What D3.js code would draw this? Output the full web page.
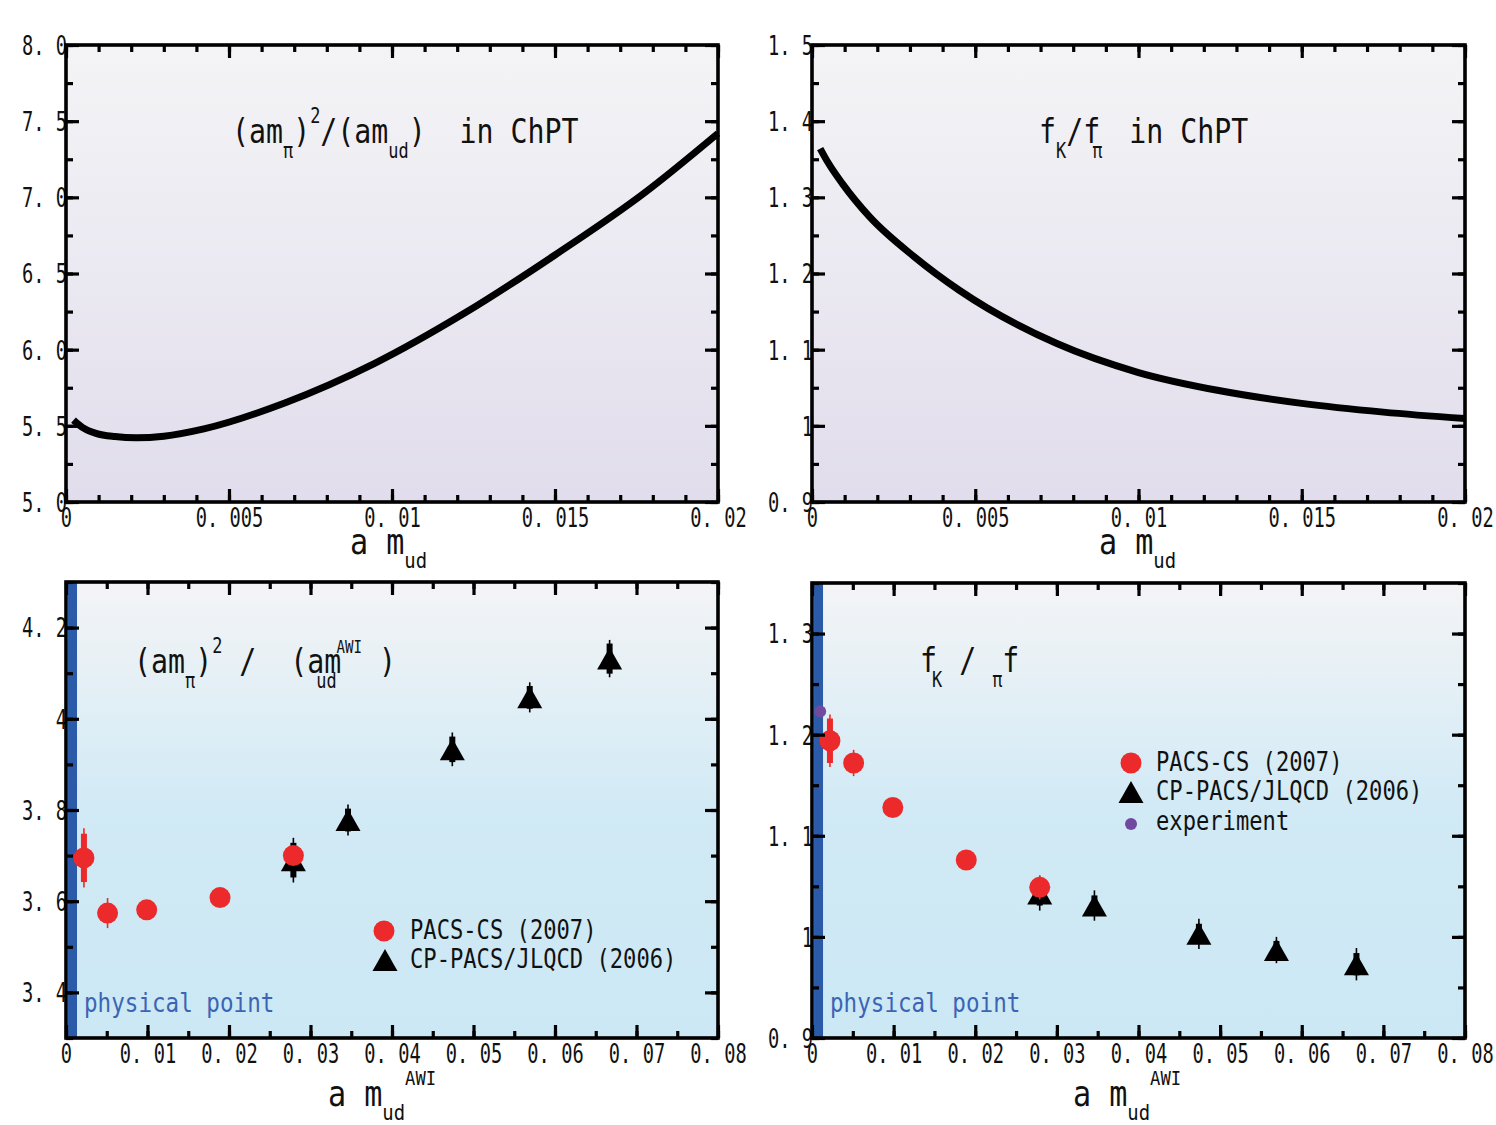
<!DOCTYPE html>
<html><head><meta charset="utf-8">
<script src="https://cdn.jsdelivr.net/npm/d3@7"></script>
<style>
body{margin:0;background:#fff}
text{font-family:"DejaVu Sans Mono","Liberation Mono",monospace;white-space:pre}
</style>
</head><body>
<svg id="c" width="1496" height="1125"></svg>
<script>
// ---------------- DATA ----------------
// Top-left: ChPT curve (am_pi)^2/(am_ud) vs a m_ud
const chptMudX = [0.00023, 0.0005, 0.00092, 0.0015, 0.00216, 0.003, 0.00423, 0.00671, 0.00947, 0.01223, 0.01499, 0.01775, 0.02];
const chptMpiRatio = [5.538, 5.49, 5.451, 5.43, 5.422, 5.432, 5.48, 5.65, 5.91, 6.24, 6.62, 7.03, 7.42];
// Top-right: ChPT curve fK/fpi vs a m_ud
const chptFkX = [0.00025, 0.0005, 0.00093, 0.00176, 0.00313, 0.00451, 0.0075, 0.01, 0.0125, 0.015, 0.0175, 0.02];
const chptFkRatio = [1.364, 1.345, 1.318, 1.2746, 1.222, 1.178, 1.108, 1.07, 1.046, 1.0295, 1.018, 1.0095];

// Bottom panels: lattice data vs a m_ud^AWI
const pacsX = [0.0022, 0.0051, 0.0099, 0.0189, 0.0279];
const pacsMpi = [3.695, 3.574, 3.581, 3.608, 3.700];
const pacsMpiErrStat = [0.053, 0.016, 0.008, 0.006, 0.01];
const pacsMpiErrTot = [0.065, 0.033, 0.01, 0.008, 0.012];
const pacsFk = [1.194, 1.172, 1.128, 1.076, 1.049];
const pacsFkErrStat = [0.022, 0.008, 0.006, 0.005, 0.006];
const pacsFkErrTot = [0.026, 0.013, 0.008, 0.006, 0.012];

const cpX = [0.0279, 0.0346, 0.0474, 0.0569, 0.0667];
const cpMpi = [3.69, 3.778, 3.933, 4.047, 4.132];
const cpMpiErrStat = [0.038, 0.025, 0.028, 0.025, 0.033];
const cpMpiErrTot = [0.049, 0.034, 0.037, 0.033, 0.041];
const cpFk = [1.043, 1.031, 1.003, 0.987, 0.973];
const cpFkErrStat = [0.012, 0.01, 0.01, 0.009, 0.011];
const cpFkErrTot = [0.017, 0.015, 0.015, 0.013, 0.016];

const expX = [0.001];
const expFk = [1.223];
const physX = 0.0008;

// Tick values / labels
const xTopTicks = [0, 0.005, 0.01, 0.015, 0.02];
const xTopLabels = ["0", "0. 005", "0. 01", "0. 015", "0. 02"];
const xBotTicks = [0, 0.01, 0.02, 0.03, 0.04, 0.05, 0.06, 0.07, 0.08];
const xBotLabels = ["0", "0. 01", "0. 02", "0. 03", "0. 04", "0. 05", "0. 06", "0. 07", "0. 08"];
const yTLTicks = [5, 5.5, 6, 6.5, 7, 7.5, 8];
const yTLLabels = ["5. 0", "5. 5", "6. 0", "6. 5", "7. 0", "7. 5", "8. 0"];
const yTRTicks = [0.9, 1, 1.1, 1.2, 1.3, 1.4, 1.5];
const yTRLabels = ["0. 9", "1", "1. 1", "1. 2", "1. 3", "1. 4", "1. 5"];
const yBLTicks = [3.4, 3.6, 3.8, 4, 4.2];
const yBLLabels = ["3. 4", "3. 6", "3. 8", "4", "4. 2"];
const yBRTicks = [0.9, 1, 1.1, 1.2, 1.3];
const yBRLabels = ["0. 9", "1", "1. 1", "1. 2", "1. 3"];

// ---------------- DRAW ----------------
const svg = d3.select('#c');
const defs = svg.append('defs');
function grad(id, stops) {
  const g = defs.append('linearGradient').attr('id', id).attr('x1', 0).attr('y1', 0).attr('x2', 0).attr('y2', 1);
  stops.forEach(s => g.append('stop').attr('offset', s[0]).attr('stop-color', s[1]));
}
grad('lav', [[0, '#f4f4f6'], [1, '#e1ddec']]);
grad('sky', [[0, '#f4f4f6'], [0.5, '#d1eaf5'], [1, '#cbe8f4']]);

const RED = '#ec2a2b', PURPLE = '#6f4a9e', BLUE = '#2b5ba8';

function rng(a, b, s) { const n = Math.round((b - a) / s); return d3.range(n + 1).map(i => +(a + i * s).toFixed(6)); }

function makePanel(c) {
  const x = d3.scaleLinear().domain(c.xd).range([c.x0, c.x1]);
  const y = d3.scaleLinear().domain(c.yd).range([c.y1, c.y0]);
  svg.append('rect').attr('x', c.x0).attr('y', c.y0).attr('width', c.x1 - c.x0).attr('height', c.y1 - c.y0)
    .attr('fill', `url(#${c.bg})`);
  return { x, y, c };
}

function styleLabels(sel, kind) {
  sel.selectAll('text').attr('font-size', 26).attr('fill', '#111').attr('dy', null);
  if (kind === 'bottom') {
    sel.selectAll('text').attr('y', 25).attr('x', 0).attr('transform', 'scale(0.72,1)');
  } else {
    sel.selectAll('text').attr('x', 0).attr('y', 0).attr('dy', '0.36em')
      .attr('text-anchor', 'end').attr('transform', 'translate(1,0) scale(0.72,1)');
  }
}

function drawAxes(P, xMaj, xLab, xMin, yMaj, yLab, yMin) {
  const { x, y, c } = P;
  const ax = [];
  const gB = svg.append('g').attr('transform', `translate(0,${c.y1})`)
    .call(d3.axisBottom(x).tickValues(xMaj).tickSize(-13).tickPadding(0).tickFormat((d, i) => xLab[i]));
  styleLabels(gB, 'bottom'); ax.push(gB);
  ax.push(svg.append('g').attr('transform', `translate(0,${c.y1})`).call(d3.axisBottom(x).tickValues(xMin).tickSize(-7).tickFormat('')));
  ax.push(svg.append('g').attr('transform', `translate(0,${c.y0})`).call(d3.axisTop(x).tickValues(xMaj).tickSize(-13).tickFormat('')));
  ax.push(svg.append('g').attr('transform', `translate(0,${c.y0})`).call(d3.axisTop(x).tickValues(xMin).tickSize(-7).tickFormat('')));
  const gL = svg.append('g').attr('transform', `translate(${c.x0},0)`)
    .call(d3.axisLeft(y).tickValues(yMaj).tickSize(-13).tickPadding(0).tickFormat((d, i) => yLab[i]));
  styleLabels(gL, 'left'); ax.push(gL);
  ax.push(svg.append('g').attr('transform', `translate(${c.x0},0)`).call(d3.axisLeft(y).tickValues(yMin).tickSize(-7).tickFormat('')));
  ax.push(svg.append('g').attr('transform', `translate(${c.x1},0)`).call(d3.axisRight(y).tickValues(yMaj).tickSize(-13).tickFormat('')));
  ax.push(svg.append('g').attr('transform', `translate(${c.x1},0)`).call(d3.axisRight(y).tickValues(yMin).tickSize(-7).tickFormat('')));
  ax.forEach(g => {
    g.select('.domain').remove();
    g.selectAll('line').attr('stroke', '#000').attr('stroke-width', 3.2);
    g.attr('font-family', null).attr('font-size', null);
  });
  svg.append('rect').attr('x', c.x0).attr('y', c.y0).attr('width', c.x1 - c.x0).attr('height', c.y1 - c.y0)
    .attr('fill', 'none').attr('stroke', '#000').attr('stroke-width', 3.6);
}

// rich text: parts = [text, mode, dx, fontSize]
function rich(x0, y0, parts, F, sx, color, subK) {
  const g = svg.append('g').attr('transform', `translate(${x0},${y0}) scale(${sx},1)`);
  const t = g.append('text').attr('font-size', F).attr('fill', color || '#111');
  let cur = 0;
  const sk = subK || 0.44;
  parts.forEach(p => {
    const [s, m, dx, fs] = p;
    const size = fs || (m ? F * 0.6 : F);
    const target = m === 'sub' ? F * sk : m === 'sup' ? -F * 0.59 : 0;
    const ts = t.append('tspan').text(s).attr('font-size', size).attr('dy', target - cur);
    if (dx) ts.attr('dx', dx / sx);
    cur = target;
  });
}

function triPath(w, h) { return `M0,${-h / 2}L${w / 2},${h / 2}L${-w / 2},${h / 2}Z`; }

function errorBars(P, xs, ys, eStat, eTot, color) {
  const { x, y } = P;
  const g = svg.append('g');
  xs.forEach((xv, i) => {
    g.append('line').attr('x1', x(xv)).attr('x2', x(xv)).attr('y1', y(ys[i] - eTot[i])).attr('y2', y(ys[i] + eTot[i]))
      .attr('stroke', color).attr('stroke-width', 1.6);
    g.append('line').attr('x1', x(xv)).attr('x2', x(xv)).attr('y1', y(ys[i] - eStat[i])).attr('y2', y(ys[i] + eStat[i]))
      .attr('stroke', color).attr('stroke-width', 6);
  });
}
function triangles(P, xs, ys) {
  svg.append('g').selectAll('path').data(xs).join('path')
    .attr('d', triPath(25, 22)).attr('fill', '#000')
    .attr('transform', (d, i) => `translate(${P.x(d)},${P.y(ys[i])})`);
}
function circles(P, xs, ys, r, color) {
  svg.append('g').selectAll('circle').data(xs).join('circle')
    .attr('cx', d => P.x(d)).attr('cy', (d, i) => P.y(ys[i])).attr('r', r).attr('fill', color);
}

// ---- Top-left ----
const TL = makePanel({ x0: 66, x1: 718, y0: 45, y1: 502, xd: [0, 0.02], yd: [5, 8], bg: 'lav' });
svg.append('path').datum(chptMudX.map((d, i) => [d, chptMpiRatio[i]]))
  .attr('d', d3.line().x(d => TL.x(d[0])).y(d => TL.y(d[1])).curve(d3.curveMonotoneX))
  .attr('fill', 'none').attr('stroke', '#000').attr('stroke-width', 7);
drawAxes(TL, xTopTicks, xTopLabels, rng(0, 0.02, 0.001), yTLTicks, yTLLabels, rng(5, 8, 0.25));
rich(232, 143, [['(am'], ['π', 'sub'], [')'], ['2', 'sup'], ['/'], ['(am'], ['ud', 'sub'], [')'], ['  in ChPT']], 34, 0.83);
rich(350, 554, [['a m'], ['ud', 'sub', 0, 22]], 35, 0.86, null, 0.4);

// ---- Top-right ----
const TR = makePanel({ x0: 812, x1: 1465, y0: 45, y1: 502, xd: [0, 0.02], yd: [0.9, 1.5], bg: 'lav' });
svg.append('path').datum(chptFkX.map((d, i) => [d, chptFkRatio[i]]))
  .attr('d', d3.line().x(d => TR.x(d[0])).y(d => TR.y(d[1])).curve(d3.curveMonotoneX))
  .attr('fill', 'none').attr('stroke', '#000').attr('stroke-width', 7);
drawAxes(TR, xTopTicks, xTopLabels, rng(0, 0.02, 0.001), yTRTicks, yTRLabels, rng(0.9, 1.5, 0.05));
rich(1039, 143, [['f'], ['K', 'sub'], ['/'], ['f'], ['π', 'sub', -8], [' in ChPT', '', 10]], 34, 0.83);
rich(1099, 554, [['a m'], ['ud', 'sub', 0, 22]], 35, 0.86, null, 0.4);

// ---- Bottom-left ----
const BL = makePanel({ x0: 66, x1: 718, y0: 582, y1: 1038, xd: [0, 0.08], yd: [3.3, 4.3], bg: 'sky' });
svg.append('line').attr('x1', BL.x(physX)).attr('x2', BL.x(physX)).attr('y1', 582).attr('y2', 1038)
  .attr('stroke', BLUE).attr('stroke-width', 9);
errorBars(BL, cpX, cpMpi, cpMpiErrStat, cpMpiErrTot, '#000');
triangles(BL, cpX, cpMpi);
errorBars(BL, pacsX, pacsMpi, pacsMpiErrStat, pacsMpiErrTot, RED);
circles(BL, pacsX, pacsMpi, 10.5, RED);
drawAxes(BL, xBotTicks, xBotLabels, rng(0, 0.08, 0.005), yBLTicks, yBLLabels, rng(3.3, 4.3, 0.1));
rich(134, 673, [['(am'], ['π', 'sub'], [')'], ['2', 'sup'], [' /  (am', '', 0], ['ud', 'sub', -25], ['AWI', 'sup', 0, 17], [' )']], 34, 0.83);
rich(84, 1012, [['physical point']], 27, 0.837, '#3c64b4');
rich(328, 1106, [['a m'], ['ud', 'sub', 0, 22], ['AWI', 'sup', 0, 20]], 35, 0.86, null, 0.4);
// legend
svg.append('circle').attr('cx', 384).attr('cy', 931).attr('r', 10.5).attr('fill', RED);
svg.append('path').attr('d', triPath(25, 22)).attr('transform', 'translate(385,960)').attr('fill', '#000');
rich(410, 939, [['PACS-CS (2007)']], 27, 0.82);
rich(410, 968, [['CP-PACS/JLQCD (2006)']], 27, 0.82);

// ---- Bottom-right ----
const BR = makePanel({ x0: 812, x1: 1465, y0: 583, y1: 1038, xd: [0, 0.08], yd: [0.9, 1.35], bg: 'sky' });
svg.append('line').attr('x1', BR.x(physX)).attr('x2', BR.x(physX)).attr('y1', 583).attr('y2', 1038)
  .attr('stroke', BLUE).attr('stroke-width', 9);
errorBars(BR, cpX, cpFk, cpFkErrStat, cpFkErrTot, '#000');
triangles(BR, cpX, cpFk);
errorBars(BR, pacsX, pacsFk, pacsFkErrStat, pacsFkErrTot, RED);
circles(BR, pacsX, pacsFk, 10.5, RED);
circles(BR, expX, expFk, 6, PURPLE);
drawAxes(BR, xBotTicks, xBotLabels, rng(0, 0.08, 0.005), yBRTicks, yBRLabels, rng(0.9, 1.35, 0.05));
rich(920, 672, [['f'], ['K', 'sub', -5], [' /'], ['π', 'sub', 16], ['f']], 34, 0.83);
rich(830, 1012, [['physical point']], 27, 0.837, '#3c64b4');
rich(1073, 1106, [['a m'], ['ud', 'sub', 0, 22], ['AWI', 'sup', 0, 20]], 35, 0.86, null, 0.4);
// legend
svg.append('circle').attr('cx', 1131).attr('cy', 763).attr('r', 10.5).attr('fill', RED);
svg.append('path').attr('d', triPath(25, 22)).attr('transform', 'translate(1131,792)').attr('fill', '#000');
svg.append('circle').attr('cx', 1131).attr('cy', 824).attr('r', 6).attr('fill', PURPLE);
rich(1156, 771, [['PACS-CS (2007)']], 27, 0.82);
rich(1156, 800, [['CP-PACS/JLQCD (2006)']], 27, 0.82);
rich(1156, 830, [['experiment']], 27, 0.82);
</script>
</body></html>
